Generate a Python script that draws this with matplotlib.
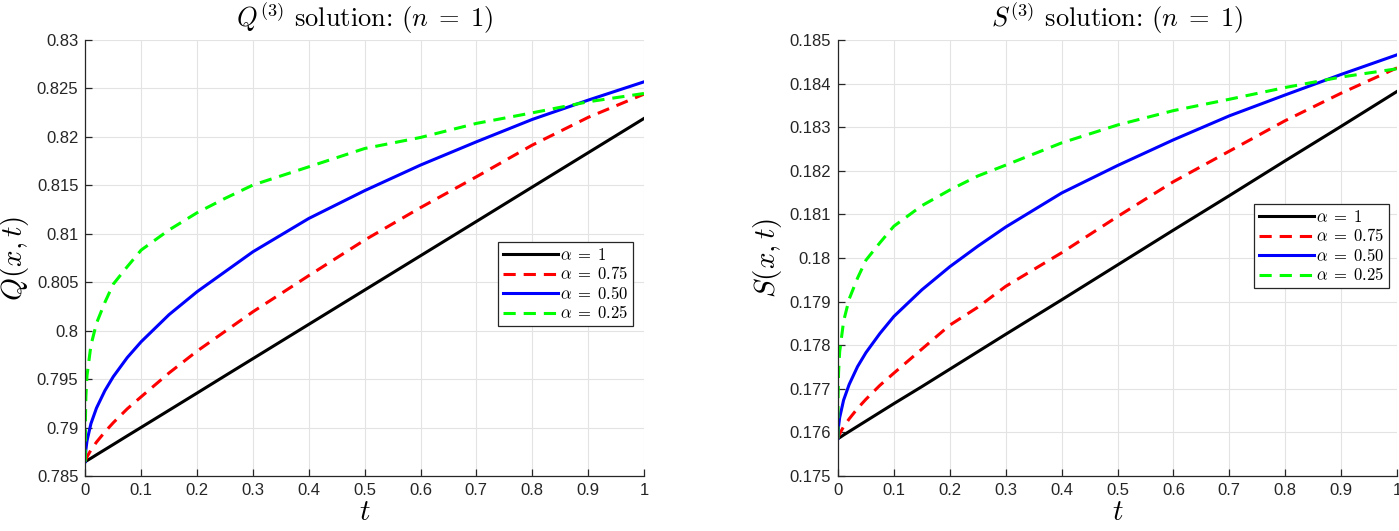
import numpy as np
import matplotlib
matplotlib.use("Agg")
import matplotlib.pyplot as plt

plt.rcParams['font.family'] = ['Liberation Sans', 'DejaVu Sans']
plt.rcParams['mathtext.fontset'] = 'cm'

# time samples (denser near t=0 where the fractional curves rise fast)
t = [0, 0.0002, 0.001, 0.003, 0.01, 0.02, 0.035, 0.05, 0.075, 0.1, 0.15, 0.2, 0.25, 0.3,
     0.4, 0.5, 0.6, 0.7, 0.8, 0.9, 1.0]

# Q^(3) values
q_a100 = [0.78648, 0.78649, 0.78652, 0.78659, 0.78683, 0.78719, 0.78772, 0.78825, 0.78914, 0.79002,
          0.79179, 0.79356, 0.79534, 0.79711, 0.80065, 0.80419, 0.80773, 0.81127, 0.81482, 0.81836,
          0.82190]
q_a075 = [0.78648, 0.78654, 0.78669, 0.78697, 0.78768, 0.78850, 0.78955, 0.79050, 0.79193, 0.79318,
          0.79564, 0.79789, 0.79992, 0.80195, 0.80568, 0.80935, 0.81270, 0.81588, 0.81915, 0.82201,
          0.82441]
q_a050 = [0.78648, 0.78703, 0.78772, 0.78863, 0.79040, 0.79202, 0.79381, 0.79525, 0.79722, 0.79886,
          0.80166, 0.80402, 0.80608, 0.80814, 0.81158, 0.81445, 0.81709, 0.81949, 0.82180, 0.82379,
          0.82568]
q_a025 = [0.78648, 0.79100, 0.79324, 0.79537, 0.79849, 0.80077, 0.80292, 0.80480, 0.80660, 0.80832,
          0.81040, 0.81217, 0.81365, 0.81503, 0.81691, 0.81880, 0.81994, 0.82139, 0.82248, 0.82362,
          0.82448]

# S^(3) values
s_a100 = [0.17586, 0.17586, 0.17587, 0.17588, 0.17594, 0.17602, 0.17614, 0.17626, 0.17646, 0.17666,
          0.17705, 0.17745, 0.17785, 0.17825, 0.17904, 0.17984, 0.18064, 0.18143, 0.18223, 0.18302,
          0.18382]
s_a075 = [0.17586, 0.17587, 0.17591, 0.17597, 0.17613, 0.17631, 0.17655, 0.17676, 0.17708, 0.17736,
          0.17791, 0.17846, 0.17887, 0.17935, 0.18012, 0.18095, 0.18175, 0.18245, 0.18315, 0.18378,
          0.18436]
s_a050 = [0.17586, 0.17598, 0.17614, 0.17634, 0.17674, 0.17710, 0.17751, 0.17783, 0.17827, 0.17866,
          0.17927, 0.17980, 0.18027, 0.18071, 0.18149, 0.18212, 0.18271, 0.18326, 0.18374, 0.18421,
          0.18466]
s_a025 = [0.17586, 0.17687, 0.17737, 0.17785, 0.17855, 0.17906, 0.17954, 0.17995, 0.18035, 0.18073,
          0.18120, 0.18156, 0.18188, 0.18213, 0.18264, 0.18305, 0.18338, 0.18364, 0.18391, 0.18415,
          0.18434]

labels = [r'$\alpha\;=\;1$', r'$\alpha\;=\;0.75$', r'$\alpha\;=\;0.50$', r'$\alpha\;=\;0.25$']
colors = ['#000000', '#ff0000', '#0000ff', '#00ff00']
dashed = [False, True, False, True]

x_ticks = [0, 0.1, 0.2, 0.3, 0.4, 0.5, 0.6, 0.7, 0.8, 0.9, 1]
x_ticklabels = ['0', '0.1', '0.2', '0.3', '0.4', '0.5', '0.6', '0.7', '0.8', '0.9', '1']
q_ticks = [0.785, 0.79, 0.795, 0.8, 0.805, 0.81, 0.815, 0.82, 0.825, 0.83]
q_ticklabels = ['0.785', '0.79', '0.795', '0.8', '0.805', '0.81', '0.815', '0.82', '0.825', '0.83']
s_ticks = [0.175, 0.176, 0.177, 0.178, 0.179, 0.18, 0.181, 0.182, 0.183, 0.184, 0.185]
s_ticklabels = ['0.175', '0.176', '0.177', '0.178', '0.179', '0.18', '0.181', '0.182', '0.183', '0.184', '0.185']

panels = [
    dict(series=[q_a100, q_a075, q_a050, q_a025], ticks=q_ticks, ticklabels=q_ticklabels,
         title=r'$Q^{(3)}$ solution: $(n\;=\;1)$', ylabel=r'$Q(x,t)$',
         pos=[0.061, 0.1036, 0.3993, 0.8211], leg=(0.739, 0.537)),
    dict(series=[s_a100, s_a075, s_a050, s_a025], ticks=s_ticks, ticklabels=s_ticklabels,
         title=r'$S^{(3)}$ solution: $(n\;=\;1)$', ylabel=r'$S(x,t)$',
         pos=[0.599, 0.1036, 0.3996, 0.8211], leg=(0.744, 0.624)),
]

fig = plt.figure(figsize=(13.99, 5.31), dpi=100)
axc = '#262626'

for p in panels:
    ax = fig.add_axes(p['pos'])
    for y, lab, c, d in zip(p['series'], labels, colors, dashed):
        if d:
            ax.plot(t, y, color=c, lw=2.2, label=lab, dashes=(4, 2.6))
        else:
            ax.plot(t, y, color=c, lw=2.2, label=lab)
    ax.set_xlim(0, 1)
    ax.set_ylim(p['ticks'][0], p['ticks'][-1])
    ax.set_xticks(x_ticks)
    ax.set_xticklabels(x_ticklabels)
    ax.set_yticks(p['ticks'])
    ax.set_yticklabels(p['ticklabels'])
    ax.grid(True, color='#e3e3e3', lw=0.8)
    ax.set_axisbelow(True)
    for side in ['top', 'right']:
        ax.spines[side].set_visible(False)
    for side in ['left', 'bottom']:
        ax.spines[side].set_color(axc)
        ax.spines[side].set_linewidth(0.9)
    ax.tick_params(direction='in', length=5, width=0.9, colors=axc, labelsize=12, pad=5)
    ax.set_title(p['title'], fontsize=19, pad=9, family='cmr10')
    ax.set_xlabel(r'$t$', fontsize=21, labelpad=0)
    ax.set_ylabel(p['ylabel'], fontsize=21, labelpad=4)
    leg = ax.legend(loc='upper left', bbox_to_anchor=p['leg'], fontsize=12, handlelength=3.3,
                    handletextpad=0.1, labelspacing=0.15, borderpad=0.3, borderaxespad=0,
                    fancybox=False, framealpha=1, edgecolor='#262626')
    leg.get_frame().set_linewidth(0.9)

fig.savefig('out.png', dpi=100)
